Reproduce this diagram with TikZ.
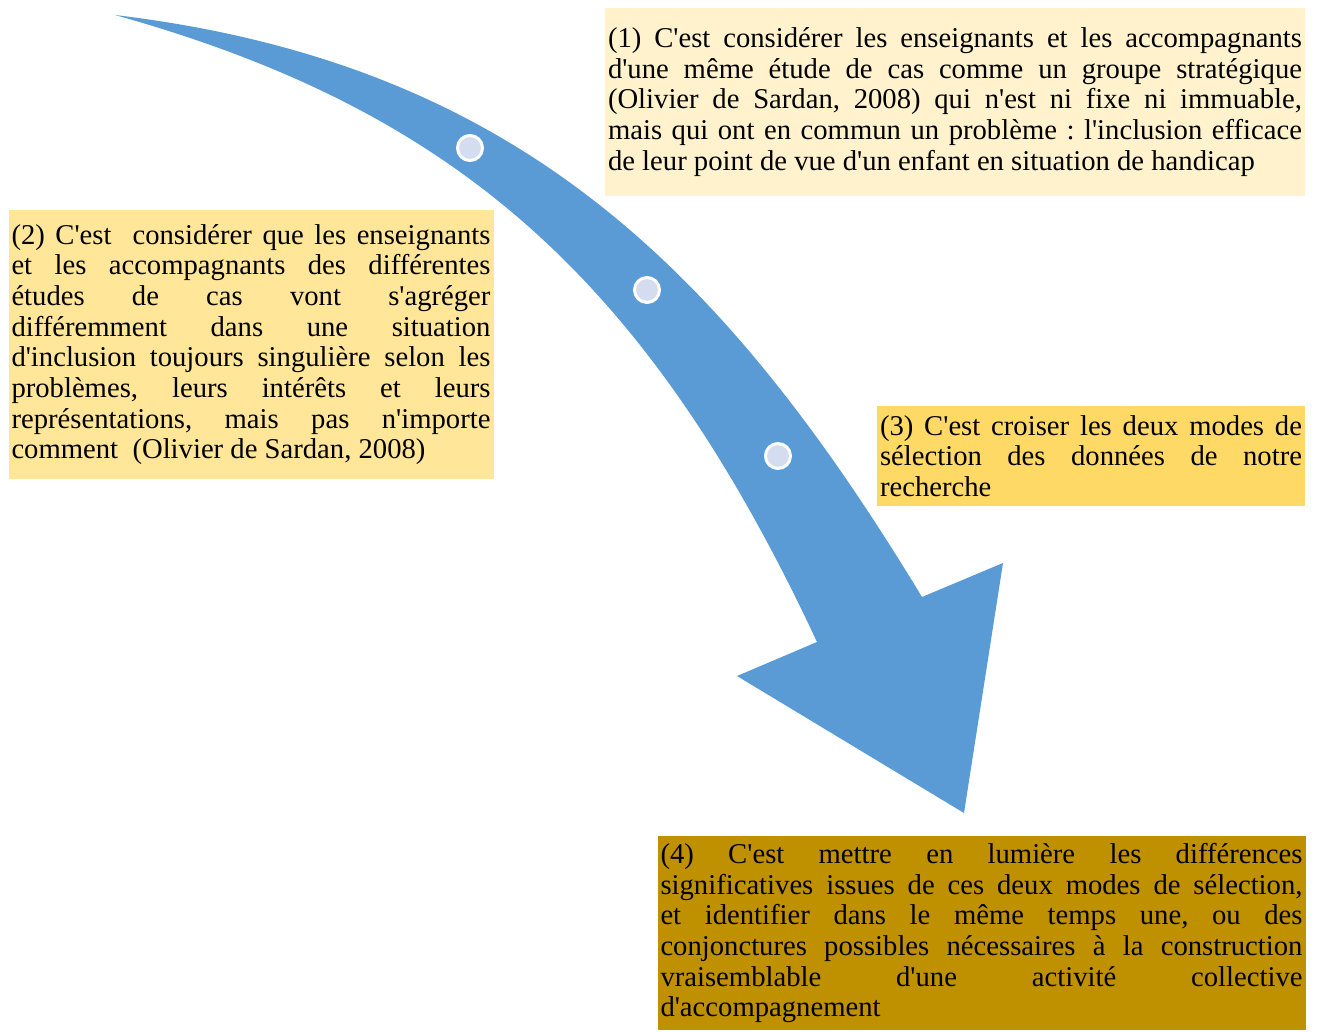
\documentclass[tikz,border=0pt]{standalone}
\usepackage{fontspec}
\newfontfamily\tnr{Liberation Serif}
\definecolor{arrowblue}{HTML}{5B9BD5}
\definecolor{dotfill}{HTML}{D4DDEF}
\definecolor{boxone}{HTML}{FFF2CC}
\definecolor{boxtwo}{HTML}{FFE699}
\definecolor{boxthree}{HTML}{FFD966}
\definecolor{boxfour}{HTML}{BF9000}
% the lines of a box, of width #1; \jline is one justified line
\newcommand\lines[2]{\vbox{\hsize=#1\relax#2}}
\newcommand\jline[1]{\hbox to\hsize{#1}}
\begin{document}
\begin{tikzpicture}[x=0.75pt, y=-0.75pt,
    box/.style={inner xsep=2.25pt, inner ysep=0pt,
        font={\tnr\fontsize{21.5}{23}\selectfont\frenchspacing\lineskiplimit=-20pt}},
    dot/.style={circle, fill=dotfill, draw=white, line width=2.25pt,
        minimum size=18.75pt, inner sep=0pt}]
    \useasboundingbox (0,0) rectangle (1322,1032);
    % the bent arrow
    \fill[arrowblue] (115,15) .. controls (515,63) and (722,267) .. (922,597)
        -- (1003,563) -- (964,813) -- (737,676) -- (817,642)
        .. controls (647,278) and (455,110) .. cycle;
    \node[dot] (d1) at (470,148) {};
    \node[dot] (d2) at (647,290) {};
    \node[dot] (d3) at (778,456) {};
    % the four boxes
    \node[box, minimum height=141pt, fill=boxone] (c1) at (955,102) {\lines{520.5pt}{%
        \jline{(1) C'est considérer les enseignants et les accompagnants}
        \jline{d'une même étude de cas comme un groupe stratégique}
        \jline{(Olivier de Sardan, 2008) qui n'est ni fixe ni immuable,}
        \jline{mais qui ont en commun un problème : l'inclusion efficace}
        \hbox{de leur point de vue d'un enfant en situation de handicap}}};
    \node[box, minimum height=201.75pt, fill=boxtwo] (c2) at (251,344.5) {\lines{359.25pt}{%
        \jline{(2) C'est\ \ considérer que les enseignants}
        \jline{et les accompagnants des différentes}
        \jline{études de cas vont s'agréger}
        \jline{différemment dans une situation}
        \jline{d'inclusion toujours singulière selon les}
        \jline{problèmes, leurs intérêts et leurs}
        \jline{représentations, mais pas n'importe}
        \hbox{comment\ \ (Olivier de Sardan, 2008)}}};
    \node[box, minimum height=75pt, fill=boxthree] (c3) at (1091,456) {\lines{316.5pt}{%
        \jline{(3) C'est croiser les deux modes de}
        \jline{sélection des données de notre}
        \hbox{recherche}}};
    \node[box, minimum height=145.5pt, fill=boxfour] (c4) at (981.5,933) {\lines{481.5pt}{%
        \jline{(4) C'est mettre en lumière les différences}
        \jline{significatives issues de ces deux modes de sélection,}
        \jline{et identifier dans le même temps une, ou des}
        \jline{conjonctures possibles nécessaires à la construction}
        \jline{vraisemblable d'une activité collective}
        \hbox{d'accompagnement}}};
\end{tikzpicture}
\end{document}
